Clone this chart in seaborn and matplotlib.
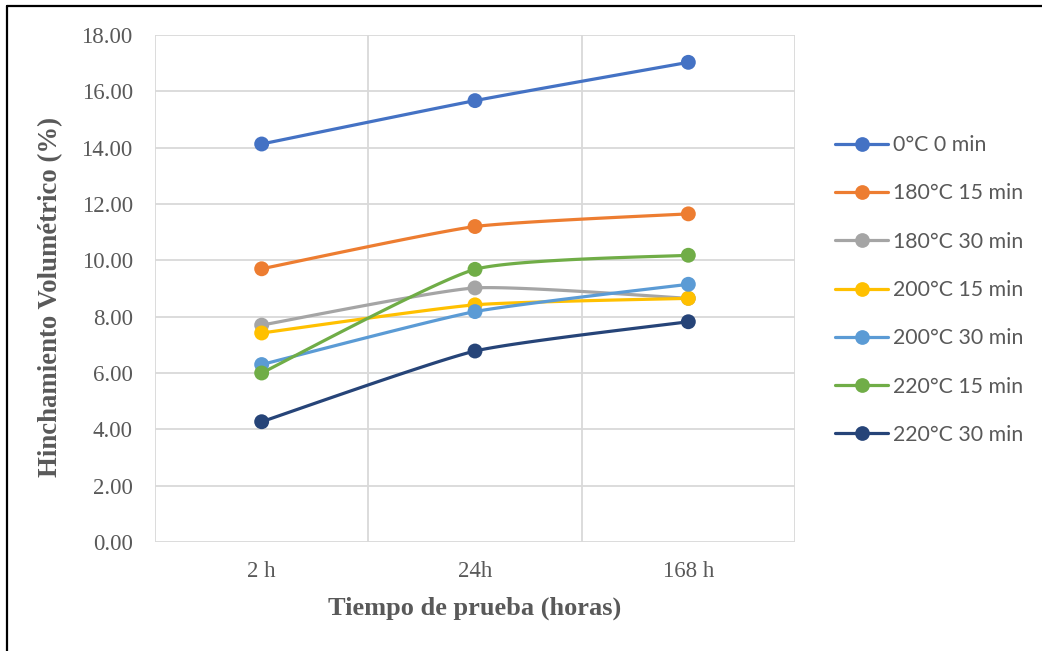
import numpy as np
import pandas as pd
import matplotlib
matplotlib.use("Agg")
import matplotlib.pyplot as plt
from matplotlib.lines import Line2D
import seaborn as sns

categories = ["2 h", "24h", "168 h"]
series_names = ["0°C 0 min", "180°C 15 min", "180°C 30 min", "200°C 15 min",
                "200°C 30 min", "220°C 15 min", "220°C 30 min"]
s_0_0 = [14.13, 15.67, 17.03]
s_180_15 = [9.70, 11.20, 11.65]
s_180_30 = [7.70, 9.02, 8.65]
s_200_15 = [7.42, 8.42, 8.65]
s_200_30 = [6.30, 8.18, 9.15]
s_220_15 = [6.00, 9.68, 10.18]
s_220_30 = [4.27, 6.78, 7.82]
all_values = [s_0_0, s_180_15, s_180_30, s_200_15, s_200_30, s_220_15, s_220_30]
colors = ["#4472C4", "#ED7D31", "#A5A5A5", "#FFC000", "#5B9BD5", "#70AD47", "#264478"]
yticks = [0, 2, 4, 6, 8, 10, 12, 14, 16, 18]

rows = []
for name, vals in zip(series_names, all_values):
    for i, (c, v) in enumerate(zip(categories, vals)):
        rows.append({"serie": name, "pos": i, "cat": c, "valor": v})
df = pd.DataFrame(rows)

sns.set_theme(style="white")
serif = ["Liberation Serif", "DejaVu Serif"]
sans = ["Lato", "DejaVu Sans"]
txt = "#595959"

fig = plt.figure(figsize=(10.42, 6.51), dpi=100)
ax = fig.add_axes([155/1042, 1-542/651, (795-155)/1042, (542-35)/651])


def smooth(xs, ys, f=0.09, n=50):
    # smoothed line (cardinal bezier, mild tension like Excel's smoothing)
    P = np.column_stack([xs, ys]).astype(float)
    m = len(P)
    ext = np.vstack([P[0], P, P[-1]])
    t = np.linspace(0, 1, n)[:, None]
    outx, outy = [], []
    for i in range(m - 1):
        p0, p1, p2, p3 = ext[i], ext[i+1], ext[i+2], ext[i+3]
        c1 = p1 + (p2 - p0) * f
        c2 = p2 - (p3 - p1) * f
        b = (1-t)**3*p1 + 3*(1-t)**2*t*c1 + 3*(1-t)*t**2*c2 + t**3*p2
        outx.extend(b[:, 0]); outy.extend(b[:, 1])
    return np.array(outx), np.array(outy)


for name, col in zip(series_names, colors):
    d = df[df.serie == name]
    sx, sy = smooth(d.pos.values, d.valor.values)
    ax.plot(sx, sy, color=col, lw=2.3, solid_capstyle="round", zorder=3)

sns.scatterplot(data=df, x="pos", y="valor", hue="serie", palette=colors,
                hue_order=series_names, s=115, edgecolor="none", legend=False,
                ax=ax, zorder=4)

ax.set_xlim(-0.5, 2.5)
ax.set_ylim(0, 18)
ax.set_yticks(yticks)
ax.set_yticklabels([f"{v:.2f}" for v in yticks], fontfamily=serif, fontsize=16.5, color=txt)
ax.set_xticks(range(len(categories)))
ax.set_xticklabels(categories, fontfamily=serif, fontsize=16.5, color=txt)
ax.set_xticks([-0.5, 0.5, 1.5, 2.5], minor=True)
ax.tick_params(axis="both", which="both", length=0)
ax.tick_params(axis="y", pad=16)
ax.tick_params(axis="x", pad=14)
ax.grid(False)
ax.yaxis.grid(True, color="#d9d9d9", lw=1.3)
ax.xaxis.grid(True, which="minor", color="#d9d9d9", lw=1.3)
for s in ax.spines.values():
    s.set_visible(False)
ax.set_xlabel("Tiempo de prueba (horas)", fontfamily=serif, fontsize=19,
              fontweight="bold", color=txt, labelpad=10)
ax.set_ylabel("Hinchamiento Volumétrico (%)", fontfamily=serif, fontsize=19.3,
              fontweight="bold", color=txt)
ax.yaxis.set_label_coords(-0.143, 0.483)

handles = [Line2D([0], [0], color=c, lw=2.3, marker="o", markersize=10.6,
                  markeredgecolor="none") for c in colors]
leg = fig.legend(handles, series_names, loc="center left",
                 bbox_to_anchor=(835/1042, 1-290/651), frameon=False,
                 prop={"family": sans, "size": 15.3}, labelcolor=txt,
                 handlelength=2.5, handletextpad=0.25, labelspacing=1.33,
                 borderpad=0, borderaxespad=0)

# outer frame (left and top edges)
fig.add_artist(Line2D([7/1042, 7/1042], [0, 1-6/651], color="black", lw=1.6,
                      transform=fig.transFigure))
fig.add_artist(Line2D([7/1042, 1], [1-6/651, 1-6/651], color="black", lw=1.6,
                      transform=fig.transFigure))

fig.savefig("out.png", dpi=100, facecolor="white")
